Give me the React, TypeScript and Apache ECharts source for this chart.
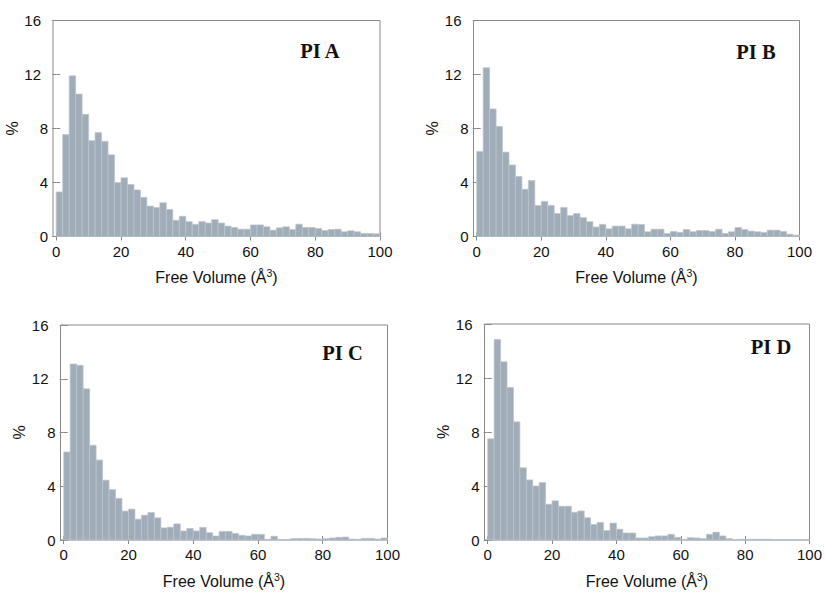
import { useEffect, useRef } from "react";
import * as echarts from "echarts";

// Histogram bins: 2 Å^3 wide, from 0 to 100
const BIN_WIDTH = 2;
const X_TICKS = [0, 20, 40, 60, 80, 100];
const Y_MAX = 16;
const Y_INTERVAL = 4;
const PANEL_LABELS = ["PI A", "PI B", "PI C", "PI D"];
const X_NAME = "Free Volume (Å{sup|3})";
const Y_NAME = "%";

const PI_A = [
  3.3, 7.55, 11.9, 10.55, 9.05, 7.1, 7.7, 7.05, 6.05, 4.0,
  4.35, 3.85, 3.45, 2.9, 2.25, 2.15, 2.5, 2.0, 1.2, 1.5,
  1.1, 0.9, 1.1, 1.0, 1.25, 1.0, 0.77, 0.67, 0.54, 0.54,
  0.86, 0.86, 0.72, 0.47, 0.64, 0.72, 0.52, 0.91, 0.67, 0.67,
  0.59, 0.44, 0.52, 0.54, 0.35, 0.42, 0.35, 0.22, 0.22, 0.2,
];
const PI_B = [
  6.3, 12.5, 9.45, 8.15, 6.25, 5.3, 4.45, 3.5, 4.15, 2.3,
  2.6, 2.3, 1.7, 2.15, 1.55, 1.7, 1.4, 1.1, 0.7, 0.9,
  0.57, 0.77, 0.77, 0.57, 0.91, 0.89, 0.35, 0.54, 0.54, 0.22,
  0.37, 0.3, 0.52, 0.35, 0.44, 0.44, 0.37, 0.54, 0.22, 0.35,
  0.67, 0.52, 0.4, 0.35, 0.3, 0.47, 0.47, 0.37, 0.17, 0.1,
];
const PI_C = [
  6.55, 13.1, 13.0, 11.25, 7.05, 5.95, 4.45, 3.75, 3.1, 2.15,
  2.3, 1.55, 1.85, 2.05, 1.65, 0.9, 0.95, 1.2, 0.67, 0.86,
  0.67, 0.94, 0.54, 0.3, 0.64, 0.64, 0.49, 0.35, 0.3, 0.42,
  0.42, 0.05, 0.28, 0.02, 0.02, 0.1, 0.12, 0.12, 0.1, 0.07,
  0.1, 0.15, 0.2, 0.22, 0.07, 0.05, 0.12, 0.12, 0.07, 0.15,
];
const PI_D = [
  7.5, 14.85, 13.2, 11.3, 8.75, 5.35, 4.45, 4.0, 4.25, 2.65,
  2.9, 2.5, 2.5, 2.05, 2.15, 1.65, 1.15, 1.3, 0.7, 1.25,
  0.8, 0.52, 0.52, 0.15, 0.15, 0.25, 0.3, 0.3, 0.42, 0.2,
  0.05, 0.17, 0.15, 0.1, 0.42, 0.58, 0.3, 0.1, 0.03, 0.05,
  0.05, 0.05, 0.05, 0.05, 0, 0, 0, 0, 0, 0,
];
const SERIES = [PI_A, PI_B, PI_C, PI_D];

// layout (pixels)
const GRIDS = [
  { left: 53, top: 20.5, width: 327, height: 216 },
  { left: 473.5, top: 20.5, width: 326, height: 216 },
  { left: 60.5, top: 325, width: 327, height: 215 },
  { left: 484.5, top: 324, width: 325, height: 216 },
];
const LABEL_POS = [
  [320, 51],
  [756, 51.5],
  [342.5, 353],
  [771, 347],
];

const BAR_FILL = "#a0acb8";
const BAR_EDGE = "#bcc5ce";
const FRAME = "#8a8a8a";
const TEXT = "#111111";
const SANS = "'Liberation Sans', Arial, Helvetica, sans-serif";
const SERIF = "'Liberation Serif', 'Times New Roman', serif";
const TICK_FONT = 15;
const NAME_FONT = 16;

export default function App() {
  const ref = useRef<HTMLDivElement>(null);

  useEffect(() => {
    if (!ref.current) return;
    const chart = echarts.init(ref.current, undefined, { renderer: "svg" });

    const grid: any[] = [];
    const xAxis: any[] = [];
    const yAxis: any[] = [];
    const series: any[] = [];
    const graphic: any[] = [];

    SERIES.forEach((values, i) => {
      grid.push({
        ...GRIDS[i],
        show: true,
        borderColor: FRAME,
        borderWidth: 1,
        backgroundColor: "transparent",
        containLabel: false,
        outerBoundsMode: "none",
      });
      const tickStyle = { color: FRAME, width: 1 };
      xAxis.push({
        gridIndex: i,
        type: "value",
        min: -1,
        max: 100,
        position: "bottom",
        axisLine: { show: false },
        splitLine: { show: false },
        axisTick: { show: true, inside: true, length: 4, customValues: X_TICKS, lineStyle: tickStyle },
        axisLabel: {
          customValues: X_TICKS,
          margin: 7,
          fontSize: TICK_FONT,
          color: TEXT,
          fontFamily: SANS,
        },
        name: X_NAME,
        nameLocation: "middle",
        nameGap: 31,
        nameTextStyle: {
          fontSize: NAME_FONT,
          color: TEXT,
          fontFamily: SANS,
          lineHeight: 20,
          rich: {
            sup: { fontSize: 10.5, lineHeight: 10, verticalAlign: "top", color: TEXT, fontFamily: SANS },
          },
        },
      });
      xAxis.push({
        gridIndex: i,
        type: "value",
        min: -1,
        max: 100,
        position: "top",
        axisLine: { show: false },
        splitLine: { show: false },
        axisLabel: { show: false },
        axisTick: { show: true, inside: true, length: 4, customValues: X_TICKS, lineStyle: tickStyle },
      });
      yAxis.push({
        gridIndex: i,
        type: "value",
        min: 0,
        max: Y_MAX,
        interval: Y_INTERVAL,
        position: "left",
        axisLine: { show: false },
        splitLine: { show: false },
        axisTick: { show: true, inside: true, length: 4, lineStyle: tickStyle },
        axisLabel: {
          margin: 5,
          fontSize: TICK_FONT,
          color: TEXT,
          fontFamily: SANS,
          formatter: (v: number) => (v >= 10 ? `{w|${v}}` : `{n|${v}}`),
          rich: {
            w: { fontSize: TICK_FONT, color: TEXT, fontFamily: SANS, padding: [0, 7, 0, 0] },
            n: { fontSize: TICK_FONT, color: TEXT, fontFamily: SANS },
          },
        },
        name: Y_NAME,
        nameLocation: "middle",
        nameRotate: 90,
        nameGap: 30,
        nameTextStyle: { fontSize: NAME_FONT, color: TEXT, fontFamily: SANS },
      });
      yAxis.push({
        gridIndex: i,
        type: "value",
        min: 0,
        max: Y_MAX,
        interval: Y_INTERVAL,
        position: "right",
        axisLine: { show: false },
        splitLine: { show: false },
        axisLabel: { show: false },
        axisTick: { show: true, inside: true, length: 4, lineStyle: tickStyle },
      });
      series.push({
        type: "custom",
        name: PANEL_LABELS[i],
        xAxisIndex: 2 * i,
        yAxisIndex: 2 * i,
        encode: { x: [0, 1], y: 2 },
        data: values.map((v, k) => [k * BIN_WIDTH, (k + 1) * BIN_WIDTH, v]),
        renderItem: (_params: any, api: any) => {
          const p0 = api.coord([api.value(0), 0]);
          const p1 = api.coord([api.value(1), api.value(2)]);
          return {
            type: "rect",
            shape: { x: p0[0], y: p1[1], width: p1[0] - p0[0], height: p0[1] - p1[1] },
            style: { fill: BAR_FILL, stroke: BAR_EDGE, lineWidth: 0.7 },
          };
        },
      });
      graphic.push({
        type: "text",
        x: LABEL_POS[i][0],
        y: LABEL_POS[i][1],
        style: {
          text: PANEL_LABELS[i],
          fontFamily: SERIF,
          fontSize: 20.5,
          fontWeight: "bold",
          fill: TEXT,
          align: "center",
          verticalAlign: "middle",
        },
      });
    });

    chart.setOption({
      animation: false,
      backgroundColor: "#ffffff",
      grid,
      xAxis,
      yAxis,
      series,
      graphic,
    });

    return () => chart.dispose();
  }, []);

  return (
    <div
      ref={ref}
      style={{ position: "fixed", left: 0, top: 0, width: 826, height: 593, background: "#fff" }}
    />
  );
}
